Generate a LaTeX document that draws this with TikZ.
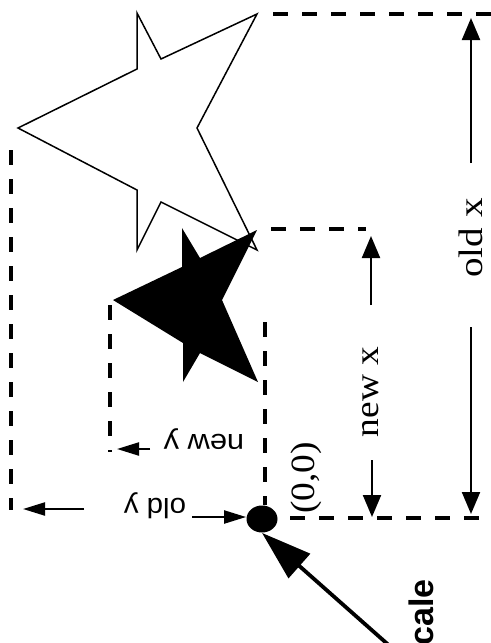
\documentclass[tikz,border=0pt]{standalone}
\usepackage{fontspec}
\setmainfont{Liberation Serif}
\setsansfont{Liberation Sans}
\usetikzlibrary{arrows.meta,shapes.geometric}

\newcommand\widetext[2]{\scalebox{#1}[1]{#2}}

\tikzset{
  guide/.style={line width=1.6pt, dash pattern=on 7.5pt off 7pt},
  dimarrow/.style={-{Triangle[length=11pt,width=9pt]}, line width=1.1pt},
  yarrow/.style={-{Triangle[length=11pt,width=6.5pt]}, line width=1.1pt},
  xlabel/.style={font=\fontsize{17}{20}\selectfont, rotate=90, inner sep=0pt, anchor=base},
  ylabel/.style={font=\sffamily\fontsize{14}{16}\selectfont, rotate=180, inner sep=0pt, anchor=base},
}

\begin{document}
\begin{tikzpicture}[x=0.5pt, y=-0.5pt]
\useasboundingbox (0,0) rectangle (491,643);

% old star, outline
\draw[line width=0.75pt] (18,128) -- (137,69) -- (137,13) -- (161,59) -- (257,14) -- (197,128)
  -- (257,250) -- (161,202) -- (137,250) -- (137,190) -- cycle;
% new star, filled
\fill (113,300) -- (182,267) -- (182,228) -- (200,258) -- (257,230) -- (222,300)
  -- (258,382) -- (200,353) -- (183,382) -- (183,343) -- cycle;

% guide lines
\draw[guide] (273,14) -- (491,14);
\draw[guide] (11,150) -- (11,510);
\draw[guide] (271,229) -- (366,229);
\draw[guide] (110,305) -- (110,452);
\draw[guide] (290,518) -- (488,518);
\draw[guide] (265,322) -- (265,505);

% origin dot
\node[ellipse, fill, minimum width=15.5pt, minimum height=13.5pt, inner sep=0pt] (origin) at (262,519) {};

% labels
\node[xlabel] (oldx) at (482,238) {\widetext{1.15}{old x}};
\node[xlabel] (newx) at (378,392) {\widetext{1.1}{new x}};
\node[xlabel] (zero) at (314,478) {\widetext{1.1}{(0,0)}};
\node[ylabel] (newy) at (204,434) {\widetext{1.1}{new y}};
\node[ylabel] (oldy) at (155,498) {\widetext{1.05}{old y}};
\node[font=\sffamily\bfseries\fontsize{17}{20}\selectfont, rotate=90, inner sep=0pt, anchor=base east] (scale) at (433,579) {cale};

% dimension arrows
\coordinate (oxa) at (471,163);
\coordinate (oxtop) at (471,18);
\coordinate (oxb) at (471,327);
\coordinate (oxbot) at (471,514);
\coordinate (nxa) at (371,305);
\coordinate (nxtop) at (371,236);
\coordinate (nxb) at (372,460);
\coordinate (nxbot) at (372,517);
\coordinate (nya) at (150,449);
\coordinate (nyend) at (117,449);
\coordinate (oya) at (84,509);
\coordinate (oyend) at (23,509);
\coordinate (oyb) at (192,517);
\coordinate (scalefrom) at (392,648);

\draw[dimarrow] (oxa) -- (oxtop);
\draw[dimarrow] (oxb) -- (oxbot);
\draw[dimarrow] (nxa) -- (nxtop);
\draw[dimarrow] (nxb) -- (nxbot);
\draw[yarrow] (nya) -- (nyend);
\draw[yarrow] (oya) -- (oyend);
\draw[yarrow] (oyb) -- (origin.west |- oyb);
\draw[-{Triangle[length=25pt,width=16pt]}, line width=1.9pt] (scalefrom) -- (origin.south);
\end{tikzpicture}
\end{document}
